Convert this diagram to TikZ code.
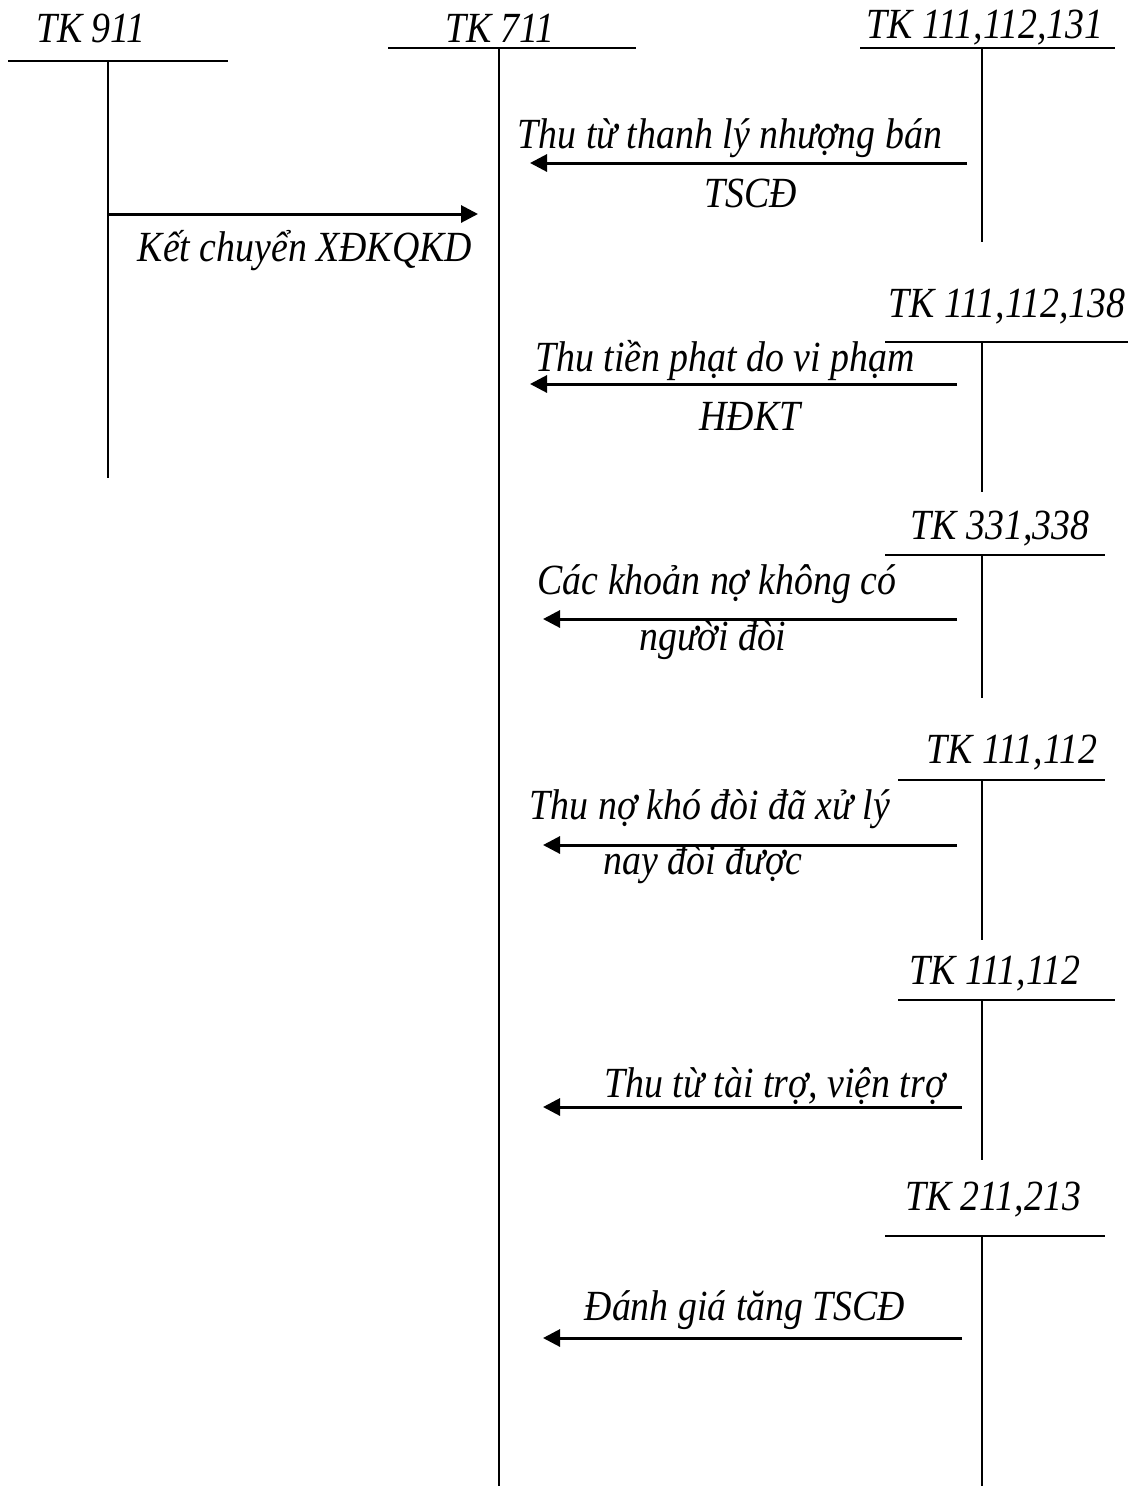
\documentclass[tikz,border=0pt]{standalone}
\usepackage{fontspec}
\setmainfont[FakeStretch=0.88]{Liberation Serif}
\usetikzlibrary{arrows.meta}
\begin{document}
\begin{tikzpicture}[x=1pt,y=-1pt,
  lbl/.style={font=\fontsize{43}{46}\selectfont\itshape, inner sep=0pt, anchor=center},
  tline/.style={line width=2.5pt},
  vline/.style={line width=2pt},
  arr/.style={line width=3pt, -{Triangle[length=17pt,width=17pt]}}]
\useasboundingbox[fill=white] (0,0) rectangle (1140,1486);
% Accounts
\node[lbl] (t911) at (91,28) {TK 911};
\node[lbl] (t711) at (500,28) {TK 711};
\node[lbl] (a1) at (985,28) {TK 111,112,131};
\node[lbl] (a2) at (1007,307) {TK 111,112,138};
\node[lbl] (a3) at (1000,529) {TK 331,338};
\node[lbl] (a4) at (1012,753) {TK 111,112};
\node[lbl] (a5) at (995,974) {TK 111,112};
\node[lbl] (a6) at (993,1200) {TK 211,213};
% T-account lines
\coordinate (h911a) at (8,61);   \coordinate (h911b) at (228,61);
\coordinate (v911a) at (108,61); \coordinate (v911b) at (108,478);
\coordinate (h711a) at (388,48); \coordinate (h711b) at (636,48);
\coordinate (v711a) at (499,48); \coordinate (v711b) at (499,1486);
\draw[tline] (h911a) -- (h911b);
\draw[vline] (v911a) -- (v911b);
\draw[tline] (h711a) -- (h711b);
\draw[vline] (v711a) -- (v711b);
\foreach \n/\y/\xa/\xb/\yb in {1/48/860/1115/242, 2/342/885/1128/492, 3/555/885/1105/698, 4/780/898/1105/940, 5/1000/898/1115/1160, 6/1236/885/1105/1486}{
  \coordinate (ha\n) at (\xa,\y); \coordinate (hb\n) at (\xb,\y);
  \coordinate (va\n) at (982,\y); \coordinate (vb\n) at (982,\yb);
  \draw[tline] (ha\n) -- (hb\n);
  \draw[vline] (va\n) -- (vb\n);
}
% Transfer arrow
\coordinate (k1) at (108,214); \coordinate (k2) at (478,214);
\draw[arr] (k1) -- (k2);
\node[lbl] (kl) at (305,251) {Kết chuyển XĐKQKD};
% Incoming arrows
\coordinate (s1) at (967,163);  \coordinate (e1) at (530,163);
\coordinate (s2) at (957,384);  \coordinate (e2) at (530,384);
\coordinate (s3) at (957,619);  \coordinate (e3) at (543,619);
\coordinate (s4) at (957,845);  \coordinate (e4) at (543,845);
\coordinate (s5) at (962,1107); \coordinate (e5) at (543,1107);
\coordinate (s6) at (962,1338); \coordinate (e6) at (543,1338);
\foreach \n in {1,...,6}{\draw[arr] (s\n) -- (e\n);}
\node[lbl] (l1a) at (730,138) {Thu từ thanh lý nhượng bán};
\node[lbl] (l1b) at (751,193) {TSCĐ};
\node[lbl] (l2a) at (725,361) {Thu tiền phạt do vi phạm};
\node[lbl] (l2b) at (750,416) {HĐKT};
\node[lbl] (l3a) at (717,584) {Các khoản nợ không có};
\node[lbl] (l3b) at (713,640) {người đòi};
\node[lbl] (l4a) at (710,809) {Thu nợ khó đòi đã xử lý};
\node[lbl] (l4b) at (703,864) {nay đòi được};
\node[lbl] (l5) at (775,1086) {Thu từ tài trợ, viện trợ};
\node[lbl] (l6) at (745,1310) {Đánh giá tăng TSCĐ};
\end{tikzpicture}
\end{document}
